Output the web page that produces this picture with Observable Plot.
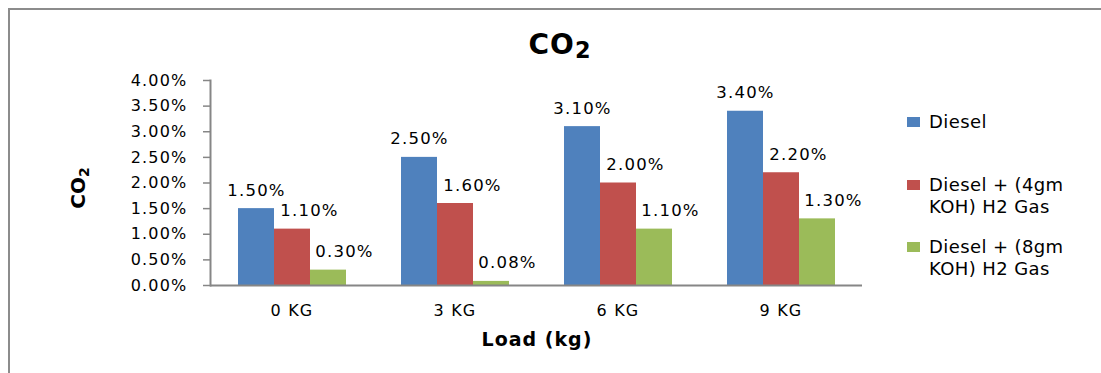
<!DOCTYPE html>
<html>
<head>
<meta charset="utf-8">
<script src="https://cdn.jsdelivr.net/npm/d3@7"></script>
<script src="https://cdn.jsdelivr.net/npm/@observablehq/plot@0.6"></script>
<style>
  html, body { margin: 0; padding: 0; background: #fff; }
  #chart { position: relative; width: 1101px; height: 373px; overflow: hidden;
           font-family: "DejaVu Sans", sans-serif; color: #000; }
  #border { position: absolute; left: 8px; top: 8px; right: -10px; bottom: -10px;
            border-top: 2px solid #8c8c8c; border-left: 2px solid #8c8c8c; }
  #plot { position: absolute; left: 0; top: 0; }
  #plot svg text { letter-spacing: 1.2px; }
  .title { position: absolute; left: 460px; width: 200px; top: 31px; text-align: center;
           font-weight: bold; font-size: 28px; line-height: 28px; letter-spacing: 1px; }
  .title sub { font-size: 0.8em; vertical-align: -0.2em; line-height: 0; }
  .ylabel sub { font-size: 0.7em; vertical-align: -0.25em; line-height: 0; }
  .ylabel { position: absolute; left: 78px; top: 188px; transform: translate(-50%, -50%) rotate(-90deg);
            font-weight: bold; font-size: 20px; line-height: 20px; white-space: nowrap; }
  .xlabel { position: absolute; left: 437px; width: 200px; top: 330px; text-align: center;
            font-weight: bold; font-size: 19px; line-height: 19px; letter-spacing: 1px; }
  .swatch { position: absolute; left: 907px; width: 13px; height: 10px; }
  .entry { position: absolute; left: 929px; width: 165px; font-size: 18px; line-height: 22px; letter-spacing: 0.4px; }
</style>
</head>
<body>
<div id="chart">
  <div id="border"></div>
  <div id="plot"></div>
  <div class="title">CO<sub>2</sub></div>
  <div class="ylabel">CO<sub>2</sub></div>
  <div class="xlabel">Load (kg)</div>
</div>
<script>
// Engine load categories and CO2 share for each fuel mix
const loads = ["0 KG", "3 KG", "6 KG", "9 KG"];
const seriesNames = ["Diesel", "Diesel + (4gm KOH) H2 Gas", "Diesel + (8gm KOH) H2 Gas"];
const diesel = [0.015, 0.025, 0.031, 0.034];
const koh4 = [0.011, 0.016, 0.020, 0.022];
const koh8 = [0.003, 0.0008, 0.011, 0.013];
const yTicks = [0, 0.005, 0.01, 0.015, 0.02, 0.025, 0.03, 0.035, 0.04];
const colors = ["#4F81BD", "#C0504D", "#9BBB59"];

const valuesBySeries = [diesel, koh4, koh8];
const rows = [];
loads.forEach((load, i) => {
  seriesNames.forEach((name, s) => rows.push({load, series: name, value: valuesBySeries[s][i]}));
});

const pct = d3.format(".2%");
const axisGray = "#868686";
// horizontal nudge for the value labels of each series
const labelShift = [0, 17, 16];

const labelMarks = seriesNames.map((name, s) =>
  Plot.text(rows, {
    filter: d => d.series === name,
    fx: "load", x: "series", y: "value",
    text: d => pct(d.value),
    lineAnchor: "bottom", dy: -13, dx: labelShift[s],
    fontSize: 16.5, fill: "#000"
  })
);

const chart = Plot.plot({
  width: 1101,
  height: 373,
  marginLeft: 209,
  marginRight: 238,
  marginTop: 80,
  marginBottom: 88,
  style: {fontFamily: "DejaVu Sans, sans-serif", fontSize: "16px", color: "#000", background: "transparent", overflow: "visible"},
  fx: {domain: loads, padding: 0},
  x: {domain: seriesNames, paddingInner: 0, paddingOuter: 0.74, axis: null},
  y: {domain: [0, 0.04]},
  color: {domain: seriesNames, range: colors},
  marks: [
    Plot.barY(rows, {fx: "load", x: "series", y: "value", fill: "series"}),
    Plot.ruleY([0], {stroke: axisGray, strokeWidth: 2}),
    Plot.frame({anchor: "left", facetAnchor: "left", stroke: axisGray, strokeWidth: 2}),
    Plot.axisY({ticks: yTicks, tickFormat: pct, tickSize: 7, tickPadding: 16, label: null,
                stroke: axisGray, strokeWidth: 1.5, fill: "#000", fontSize: 16}),
    Plot.axisFx({anchor: "bottom", tickSize: 0, tickPadding: 19, label: null, fill: "#000", fontSize: 16}),
    ...labelMarks
  ]
});
document.getElementById("plot").appendChild(chart);

// Legend, one entry per series
const legendTops = [111, 174, 236];
const chartDiv = document.getElementById("chart");
seriesNames.forEach((name, s) => {
  const sw = document.createElement("div");
  sw.className = "swatch";
  sw.style.background = colors[s];
  sw.style.top = (legendTops[s] + 6) + "px";
  chartDiv.appendChild(sw);
  const t = document.createElement("div");
  t.className = "entry";
  t.style.top = legendTops[s] + "px";
  t.textContent = name;
  chartDiv.appendChild(t);
});
</script>
</body>
</html>
